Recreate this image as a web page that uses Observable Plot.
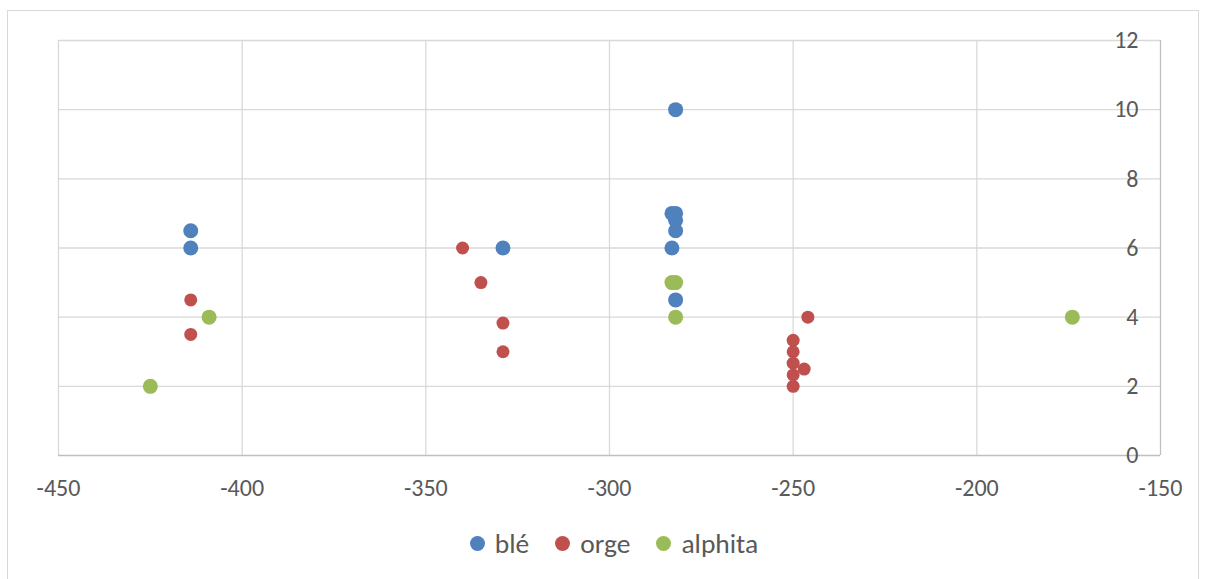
<!DOCTYPE html>
<html>
<head>
<meta charset="utf-8">
<script src="https://cdn.jsdelivr.net/npm/d3@7"></script>
<script src="https://cdn.jsdelivr.net/npm/@observablehq/plot@0.6"></script>
<style>
  html, body { margin: 0; padding: 0; background: #fff; width: 1206px; height: 579px; overflow: hidden; }
  #frame { position: absolute; left: 7px; top: 10px; width: 1192px; height: 600px; border: 1px solid #d9d9d9; box-sizing: border-box; }
  #chart { position: absolute; left: 0; top: 0; }
  #legend { position: absolute; left: 11px; top: 527px; width: 1206px; display: flex; justify-content: center; align-items: center;
    font-family: Carlito, Calibri, "Liberation Sans", sans-serif; font-size: 27.5px; color: #595959; }
  .item { display: flex; align-items: center; margin: 0 13px; }
  .dot { width: 15px; height: 15px; border-radius: 50%; margin-right: 10px; }
</style>
</head>
<body>
<div id="frame"></div>
<div id="chart"></div>
<div id="legend"></div>
<script>
const seriesNames = ["blé", "orge", "alphita"];
const seriesColors = ["#4F81BD", "#C0504D", "#9BBB59"];
const seriesRadius = [7.5, 6.5, 7.5];

const bleX = [-414, -414, -329, -282, -283, -282, -282, -282, -283, -282];
const bleY = [6.5, 6, 6, 10, 7, 7, 6.8, 6.5, 6, 4.5];
const orgeX = [-414, -414, -340, -335, -329, -329, -250, -250, -250, -250, -250, -247, -246];
const orgeY = [4.5, 3.5, 6, 5, 3.83, 3, 3.33, 3, 2.67, 2.33, 2, 2.5, 4];
const alphitaX = [-425, -409, -283, -282, -282, -174];
const alphitaY = [2, 4, 5, 5, 4, 4];

const xTicks = [-450, -400, -350, -300, -250, -200, -150];
const yTicks = [0, 2, 4, 6, 8, 10, 12];

const seriesX = [bleX, orgeX, alphitaX];
const seriesY = [bleY, orgeY, alphitaY];
const data = [];
seriesNames.forEach((s, i) => seriesX[i].forEach((x, j) => data.push({series: s, x, y: seriesY[i][j], r: seriesRadius[i]})));

const font = 'Carlito, Calibri, "Liberation Sans", sans-serif';

const chart = Plot.plot({
  width: 1206,
  height: 505,
  marginLeft: 58,
  marginRight: 46,
  marginTop: 40,
  marginBottom: 50,
  style: { fontFamily: font, color: "#595959", background: "transparent", overflow: "visible" },
  x: { domain: [-450, -150] },
  y: { domain: [0, 12] },
  r: { type: "identity" },
  color: { domain: seriesNames, range: seriesColors },
  marks: [
    Plot.gridX(xTicks.slice(0, -1), { stroke: "#d9d9d9", strokeOpacity: 1, strokeWidth: 1.3 }),
    Plot.gridY(yTicks.slice(1), { stroke: "#d9d9d9", strokeOpacity: 1, strokeWidth: 1.3 }),
    Plot.ruleY([0], { stroke: "#bfbfbf", strokeWidth: 1.3 }),
    Plot.ruleX([-150], { stroke: "#bfbfbf", strokeWidth: 1.3 }),
    Plot.axisX({ ticks: xTicks, tickFormat: d => String(d), tickSize: 0, tickPadding: 23, fontSize: 24, fill: "#595959", label: null }),
    Plot.axisY({ anchor: "right", ticks: yTicks, tickFormat: d => String(d), tickSize: 0, tickPadding: -22, textAnchor: "end", fontSize: 24, fill: "#595959", label: null }),
    Plot.dot(data, { x: "x", y: "y", r: "r", fill: "series", stroke: null })
  ]
});
document.getElementById("chart").appendChild(chart);

const legend = document.getElementById("legend");
seriesNames.forEach((s, i) => {
  const item = document.createElement("div");
  item.className = "item";
  const dot = document.createElement("span");
  dot.className = "dot";
  dot.style.background = seriesColors[i];
  const t = document.createElement("span");
  t.textContent = s;
  item.appendChild(dot);
  item.appendChild(t);
  legend.appendChild(item);
});
</script>
</body>
</html>
